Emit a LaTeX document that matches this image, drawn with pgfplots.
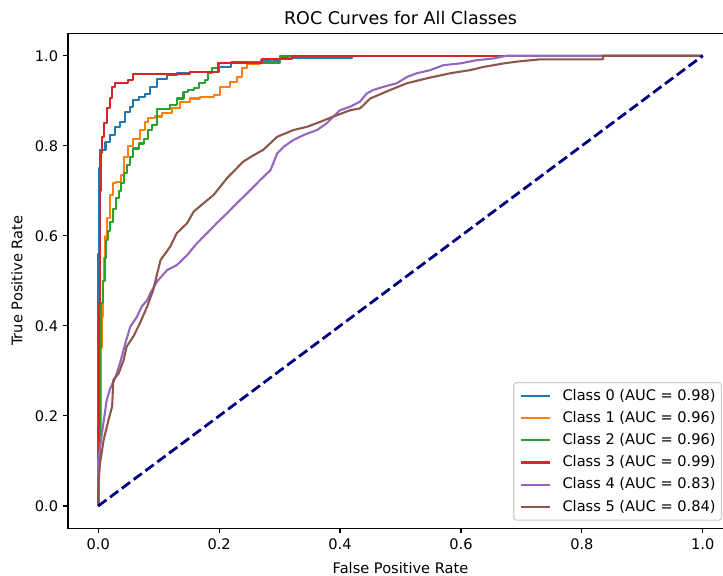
\documentclass[border=0pt]{standalone}
\usepackage{pgfplots}
\pgfplotsset{compat=1.18}
\usepackage{fontspec}
\setmainfont{DejaVu Sans}
\definecolor{c0}{HTML}{1F77B4}
\definecolor{c1}{HTML}{FF7F0E}
\definecolor{c2}{HTML}{2CA02C}
\definecolor{c3}{HTML}{D62728}
\definecolor{c4}{HTML}{9467BD}
\definecolor{c5}{HTML}{8C564B}
\definecolor{navyc}{HTML}{000080}
\definecolor{legframe}{gray}{0.8}
\begin{document}
\begin{tikzpicture}
\begin{axis}[
  at={(48.96pt,34.2pt)}, anchor=south west,
  scale only axis, width=478.8pt, height=356.6pt,
  xmin=-0.05, xmax=1.05, ymin=-0.05, ymax=1.05,
  xtick={0,0.2,0.4,0.6,0.8,1}, ytick={0,0.2,0.4,0.6,0.8,1},
  xticklabels={0.0,0.2,0.4,0.6,0.8,1.0},
  yticklabels={0.0,0.2,0.4,0.6,0.8,1.0},
  tick align=outside, major tick length=3.6pt,
  xtick pos=bottom, ytick pos=left,
  tick style={line width=0.8pt, black},
  axis line style={line width=0.8pt, black},
  ticklabel style={font=\fontsize{10.5}{12.5}\selectfont},
  label style={font=\fontsize{10.5}{12.5}\selectfont},
  title style={font=\fontsize{12.6}{15}\selectfont, yshift=-3.3pt},
  xlabel style={yshift=-2.3pt},
  ylabel style={yshift=2pt},
  title={ROC Curves for All Classes},
  xlabel={False Positive Rate},
  ylabel={True Positive Rate},
  legend cell align=left,
  legend image code/.code={\draw[#1] (0pt,0pt) -- (21pt,0pt);},
  legend style={at={(0.9835,0.0157)}, anchor=south east,
    draw=legframe, line width=0.8pt, rounded corners=2pt, fill=white, fill opacity=0.8, text opacity=1,
    inner xsep=4.2pt, inner ysep=4.5pt, row sep=6pt,
    font=\fontsize{10.5}{12.5}\selectfont,
    nodes={inner sep=0pt, text height=8pt, text depth=2pt},
    /tikz/every odd column/.append style={column sep=8.4pt}},
  every axis plot/.append style={line width=1.5pt, line join=round},
]
\addplot[c0, const plot] coordinates {
(0,0) (0,0.56) (0.002,0.75) (0.003,0.79) (0.012,0.809) (0.02,0.824) (0.028,0.842)
(0.036,0.853) (0.045,0.876) (0.053,0.887) (0.058,0.902) (0.067,0.908) (0.078,0.916)
(0.086,0.931) (0.097,0.948) (0.114,0.957) (0.13,0.961) (0.152,0.963) (0.2,0.975)
(0.22,0.985) (0.27,0.99) (0.30,0.995) (0.42,1.0) (1,1) (1,1)};
\addlegendentry{Class 0 (AUC = 0.98)}
\addplot[c1, const plot] coordinates {
(0,0) (0.002,0.15) (0.004,0.35) (0.006,0.42) (0.008,0.5) (0.01,0.55) (0.012,0.6)
(0.015,0.64) (0.02,0.69) (0.025,0.717) (0.03,0.72) (0.037,0.735) (0.042,0.776)
(0.05,0.80) (0.058,0.816) (0.069,0.835) (0.078,0.853) (0.083,0.861) (0.094,0.865)
(0.105,0.872) (0.122,0.883) (0.136,0.898) (0.152,0.905) (0.169,0.908) (0.191,0.913)
(0.202,0.931) (0.218,0.942) (0.229,0.953) (0.238,0.972) (0.246,0.981) (0.268,0.987)
(0.287,0.992) (0.318,1.0) (1,1) (1,1)};
\addlegendentry{Class 1 (AUC = 0.96)}
\addplot[c2, const plot] coordinates {
(0,0) (0.002,0.1) (0.003,0.35) (0.005,0.45) (0.008,0.5) (0.011,0.55) (0.013,0.59)
(0.016,0.61) (0.02,0.63) (0.025,0.66) (0.03,0.685) (0.035,0.70) (0.037,0.717)
(0.042,0.739) (0.047,0.757) (0.053,0.776) (0.058,0.794) (0.067,0.805) (0.075,0.816)
(0.083,0.835) (0.089,0.846) (0.097,0.882) (0.119,0.89) (0.13,0.905) (0.141,0.92)
(0.149,0.924) (0.158,0.928) (0.166,0.939) (0.177,0.946) (0.182,0.961) (0.188,0.972)
(0.199,0.983) (0.246,0.985) (0.30,1.0) (1,1) (1,1)};
\addlegendentry{Class 2 (AUC = 0.96)}
\addplot[c3, const plot] coordinates {
(0,0) (0,0.10) (0.002,0.45) (0.003,0.70) (0.004,0.784) (0.006,0.82) (0.009,0.85)
(0.014,0.884) (0.019,0.906) (0.023,0.931) (0.028,0.94) (0.05,0.946) (0.057,0.959)
(0.152,0.963) (0.198,0.983) (0.271,0.992) (0.32,1.0) (1,1) (1,1)};
\addlegendentry{Class 3 (AUC = 0.99)}
\addplot[c4] coordinates {
(0,0) (0,0.10) (0.006,0.16) (0.014,0.235) (0.02,0.262) (0.028,0.284) (0.036,0.317)
(0.045,0.362) (0.053,0.398) (0.064,0.42) (0.072,0.443) (0.081,0.457) (0.086,0.472)
(0.097,0.498) (0.114,0.524) (0.13,0.535) (0.147,0.557) (0.163,0.583) (0.18,0.606)
(0.196,0.628) (0.213,0.65) (0.229,0.672) (0.246,0.694) (0.268,0.724) (0.285,0.746)
(0.296,0.783) (0.307,0.798) (0.323,0.813) (0.34,0.824) (0.362,0.835) (0.378,0.85)
(0.389,0.865) (0.4,0.879) (0.417,0.887) (0.433,0.898) (0.444,0.916) (0.455,0.924)
(0.472,0.931) (0.494,0.939) (0.511,0.953) (0.527,0.961) (0.549,0.968) (0.571,0.979)
(0.599,0.983) (0.626,0.99) (0.654,0.994) (0.676,1.0) (1,1)};
\addlegendentry{Class 4 (AUC = 0.83)}
\addplot[c5] coordinates {
(0,0) (0,0.043) (0.003,0.095) (0.009,0.147) (0.017,0.191) (0.023,0.221) (0.025,0.28)
(0.034,0.295) (0.042,0.324) (0.047,0.354) (0.058,0.376) (0.069,0.406) (0.081,0.443)
(0.091,0.48) (0.103,0.546) (0.119,0.576) (0.13,0.606) (0.147,0.628) (0.158,0.654)
(0.174,0.672) (0.191,0.691) (0.213,0.728) (0.24,0.765) (0.257,0.779) (0.273,0.791)
(0.296,0.82) (0.323,0.835) (0.345,0.842) (0.367,0.853) (0.389,0.865) (0.417,0.879)
(0.433,0.883) (0.45,0.905) (0.483,0.924) (0.511,0.939) (0.544,0.95) (0.582,0.961)
(0.615,0.968) (0.637,0.975) (0.671,0.983) (0.693,0.987) (0.731,0.992) (0.835,0.992) (0.835,1.0) (1,1)};
\addlegendentry{Class 5 (AUC = 0.84)}
\addplot[navyc, line width=2pt, dash pattern=on 7.4pt off 3.2pt, forget plot] coordinates {(0,0) (1,1)};
\end{axis}
\pgfresetboundingbox
\path[use as bounding box] (0,0) rectangle (520.56pt,414.72pt);
\end{tikzpicture}
\end{document}
